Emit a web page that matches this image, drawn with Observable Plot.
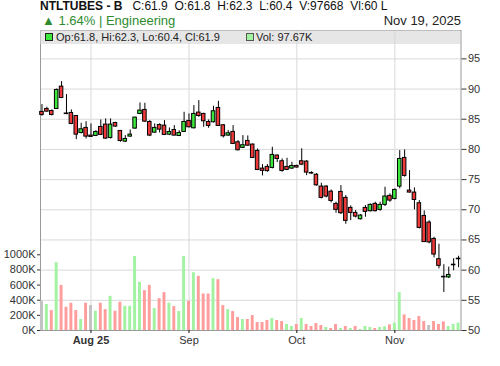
<!DOCTYPE html>
<html>
<head>
<meta charset="utf-8">
<script src="https://cdn.jsdelivr.net/npm/d3@7"></script>
<script src="https://cdn.jsdelivr.net/npm/@observablehq/plot@0.6"></script>
<style>
  html, body { margin: 0; padding: 0; background: #fff; }
  #wrap { position: relative; width: 500px; height: 366px; overflow: hidden; font-family: "Liberation Sans", Arial, sans-serif; }
  .layer { position: absolute; left: 0; top: 0; }
  .hdr { position: absolute; white-space: pre; color: #111; }
  #legend { position: absolute; left: 40px; top: 30px; width: 420px; height: 14px; background: rgba(214,214,214,0.6); font-size: 11px; line-height: 14px; color: #222; }
  .sq { position: absolute; width: 6px; height: 6px; border: 1px solid #222; top: 3px; }
</style>
</head>
<body>
<div id="wrap">
  <div id="price" class="layer"></div>
  <div id="vol" class="layer"></div>
  <div class="hdr" style="left:40px;top:0px;font-size:12px;line-height:12px;"><b>NTLTUBES - B</b>   C:61.9  O:61.8  H:62.3  L:60.4  V:97668  Vl:60 L</div>
  <div class="hdr" style="left:42px;top:14px;font-size:13px;line-height:13px;color:#2e8b2e;">▲ 1.64% | Engineering</div>
  <div class="hdr" style="right:39px;top:14px;font-size:13px;line-height:13px;color:#222;">Nov 19, 2025</div>
  <div id="legend">
    <div class="sq" style="left:5px;background:#3de83d;"></div>
    <span style="position:absolute;left:16px;top:0;">Op:61.8, Hi:62.3, Lo:60.4, Cl:61.9</span>
    <div class="sq" style="left:206px;background:#a2f2a2;border-color:#555;"></div>
    <span style="position:absolute;left:216px;top:0;">Vol: 97.67K</span>
  </div>
</div>
<script>
// ---- data ----
const opens  = [86.21,86.70,86.37,86.70,90.40,85.95,86.04,85.54,82.73,83.56,82.29,82.23,83.72,84.11,81.90,84.38,83.06,81.29,82.12,83.45,85.87,86.54,84.55,82.78,84.05,83.94,82.45,83.22,82.23,82.90,84.72,83.50,86.10,85.88,84.55,84.50,86.87,84.00,82.29,82.90,81.18,80.25,81.40,80.80,79.75,76.82,77.10,76.93,78.98,78.04,77.10,76.82,77.26,78.04,77.98,76.10,75.80,73.84,73.84,73.00,70.97,72.96,71.97,70.31,69.48,68.43,70.31,69.76,70.97,69.98,70.81,72.30,71.80,73.84,78.59,73.18,72.85,71.08,68.98,67.88,65.17,61.81,58.90,58.80,60.80,61.80];
const highs  = [87.42,86.98,86.54,90.01,91.23,89.08,86.54,85.60,84.33,84.60,84.22,83.11,84.88,85.05,85.05,84.49,83.11,82.29,83.22,85.32,87.70,87.64,84.77,84.22,84.22,84.77,83.56,83.94,83.11,86.15,85.88,87.26,88.08,85.99,84.88,87.15,87.97,84.11,83.12,83.94,81.46,82.29,82.23,80.91,80.08,77.49,77.49,80.36,79.09,78.42,78.53,77.87,77.40,80.10,78.15,76.30,76.00,74.39,74.00,73.29,71.25,74.00,72.35,70.64,69.87,69.21,70.70,70.97,71.25,71.25,73.73,72.63,73.46,79.80,79.91,76.49,73.62,71.52,69.81,68.20,65.45,64.29,60.90,60.50,61.90,62.30];
const lows   = [85.49,86.15,85.54,86.65,88.41,85.76,84.10,81.62,82.56,81.73,82.01,82.12,82.29,81.68,81.73,83.67,81.18,81.13,82.01,83.33,85.76,84.49,82.12,82.67,82.73,82.29,82.29,82.23,82.12,82.79,83.56,83.39,85.32,83.67,83.50,84.39,83.78,81.90,82.18,80.80,79.75,80.14,80.55,78.48,76.49,75.61,76.22,76.77,77.82,76.22,76.49,76.71,76.90,77.30,75.66,75.90,73.90,71.80,71.97,71.14,69.43,69.21,67.60,68.20,68.65,68.32,68.76,69.65,69.65,69.76,70.53,71.25,71.63,73.46,75.40,72.79,69.98,66.83,64.57,64.35,62.03,60.21,56.30,58.60,59.90,60.40];
const closes = [85.71,86.26,85.71,89.85,88.52,85.85,84.22,82.45,83.33,82.12,82.07,82.89,82.40,81.79,84.11,83.78,81.40,81.73,82.45,85.27,86.43,84.60,82.29,83.56,83.28,82.40,82.89,82.29,82.73,84.55,83.67,85.88,85.54,84.66,83.89,86.32,83.89,82.18,82.67,80.91,79.86,80.69,80.62,78.59,76.60,76.45,76.40,79.09,78.42,76.44,76.60,77.26,77.00,77.48,76.16,76.00,74.05,71.97,72.19,71.47,69.98,69.43,68.16,69.48,68.87,69.04,69.65,70.81,69.76,70.81,72.19,71.52,73.29,78.42,75.61,72.85,71.63,67.00,64.65,64.60,62.58,60.71,58.80,59.20,60.90,61.90];
const volumesK = [385,342,263,895,596,307,360,263,145,360,329,254,360,276,451,254,373,320,320,978,636,526,596,290,421,500,360,316,250,978,385,763,715,482,482,684,671,329,276,250,171,145,145,197,105,105,132,158,132,118,79,53,79,158,79,53,92,66,40,26,79,26,53,26,53,13,53,40,26,40,49,75,96,500,206,158,132,184,118,66,118,79,114,53,79,97.668];
const volDir = ["n","u","d","u","d","d","d","d","u","d","n","u","d","d","u","d","d","u","u","u","u","d","d","u","d","d","u","d","u","u","d","u","d","d","d","u","d","d","u","d","d","u","d","d","d","d","d","u","d","d","u","u","d","u","d","d","d","d","u","d","d","u","d","u","d","u","u","u","d","u","u","d","u","u","d","d","d","d","d","n","d","d","d","u","u","u"];
const tickIdx = [10, 30, 52, 72];
const tickLabels = ["Aug 25", "Sep", "Oct", "Nov"];
const priceTicks = [50, 55, 60, 65, 70, 75, 80, 85, 90, 95];
const volTicks = [0, 200, 400, 600, 800, 1000];

// ---- build tables ----
const candles = opens.map((o, i) => ({i, o, h: highs[i], l: lows[i], c: closes[i]}));
const vols = volumesK.map((v, i) => ({i, v, dir: volDir[i]}));
const labelOf = new Map(tickIdx.map((t, k) => [t, tickLabels[k]]));

const W = 500, H = 366;
const margins = {marginTop: 30, marginRight: 39.5, marginBottom: 36, marginLeft: 40};
const xDomain = [-0.3, 85.5];
const font = {background: "transparent", fontFamily: "'Liberation Sans', Arial, sans-serif", fontSize: "11px", color: "#333"};

const priceChart = Plot.plot({
  width: W, height: H, ...margins,
  style: font,
  x: {domain: xDomain, axis: null, label: null},
  y: {domain: [50, 99.7], axis: null, label: null},
  marks: [
    Plot.gridY(priceTicks.filter(t => t > 50), {stroke: "#d9d9d9", strokeOpacity: 1}),
    Plot.gridX(tickIdx, {stroke: "#d9d9d9", strokeOpacity: 1}),
    Plot.frame({stroke: "#999"}),
    Plot.axisY(priceTicks, {anchor: "right", label: null, tickSize: 5, tickPadding: 2, fontSize: 11, stroke: "#333"}),
    Plot.axisX([tickIdx[0]], {anchor: "bottom", label: null, tickSize: 3, tickPadding: 3, tickFormat: d => labelOf.get(d), fontWeight: "bold", fontSize: 11, stroke: "#111"}),
    Plot.axisX(tickIdx.slice(1), {anchor: "bottom", label: null, tickSize: 3, tickPadding: 3, tickFormat: d => labelOf.get(d), fontSize: 11, stroke: "#111"}),
    Plot.ruleX(candles, {x: "i", y1: "l", y2: "h", stroke: "#000", strokeWidth: 1}),
    Plot.rect(candles, {
      x1: d => d.i - 0.36, x2: d => d.i + 0.36,
      y1: "o", y2: "c",
      fill: d => d.c >= d.o ? "#3de83d" : "#f03a3a",
      stroke: "#000", strokeWidth: 1
    })
  ]
});
document.getElementById("price").appendChild(priceChart);

const volChart = Plot.plot({
  width: W, height: H, ...margins,
  style: font,
  x: {domain: xDomain, axis: null, label: null},
  y: {domain: [0, 3963], axis: null, label: null},
  marks: [
    Plot.rectY(vols, {
      x1: d => d.i - 0.3, x2: d => d.i + 0.3, y: "v",
      fill: d => d.dir === "u" ? "#a2f2a2" : d.dir === "d" ? "#ff9d9d" : "#c2c2c2"
    }),
    Plot.axisY(volTicks, {anchor: "left", label: null, tickSize: 3, tickPadding: 2, tickFormat: d => d + "K", fontSize: 11, stroke: "#333"})
  ]
});
document.getElementById("vol").appendChild(volChart);
</script>
</body>
</html>
